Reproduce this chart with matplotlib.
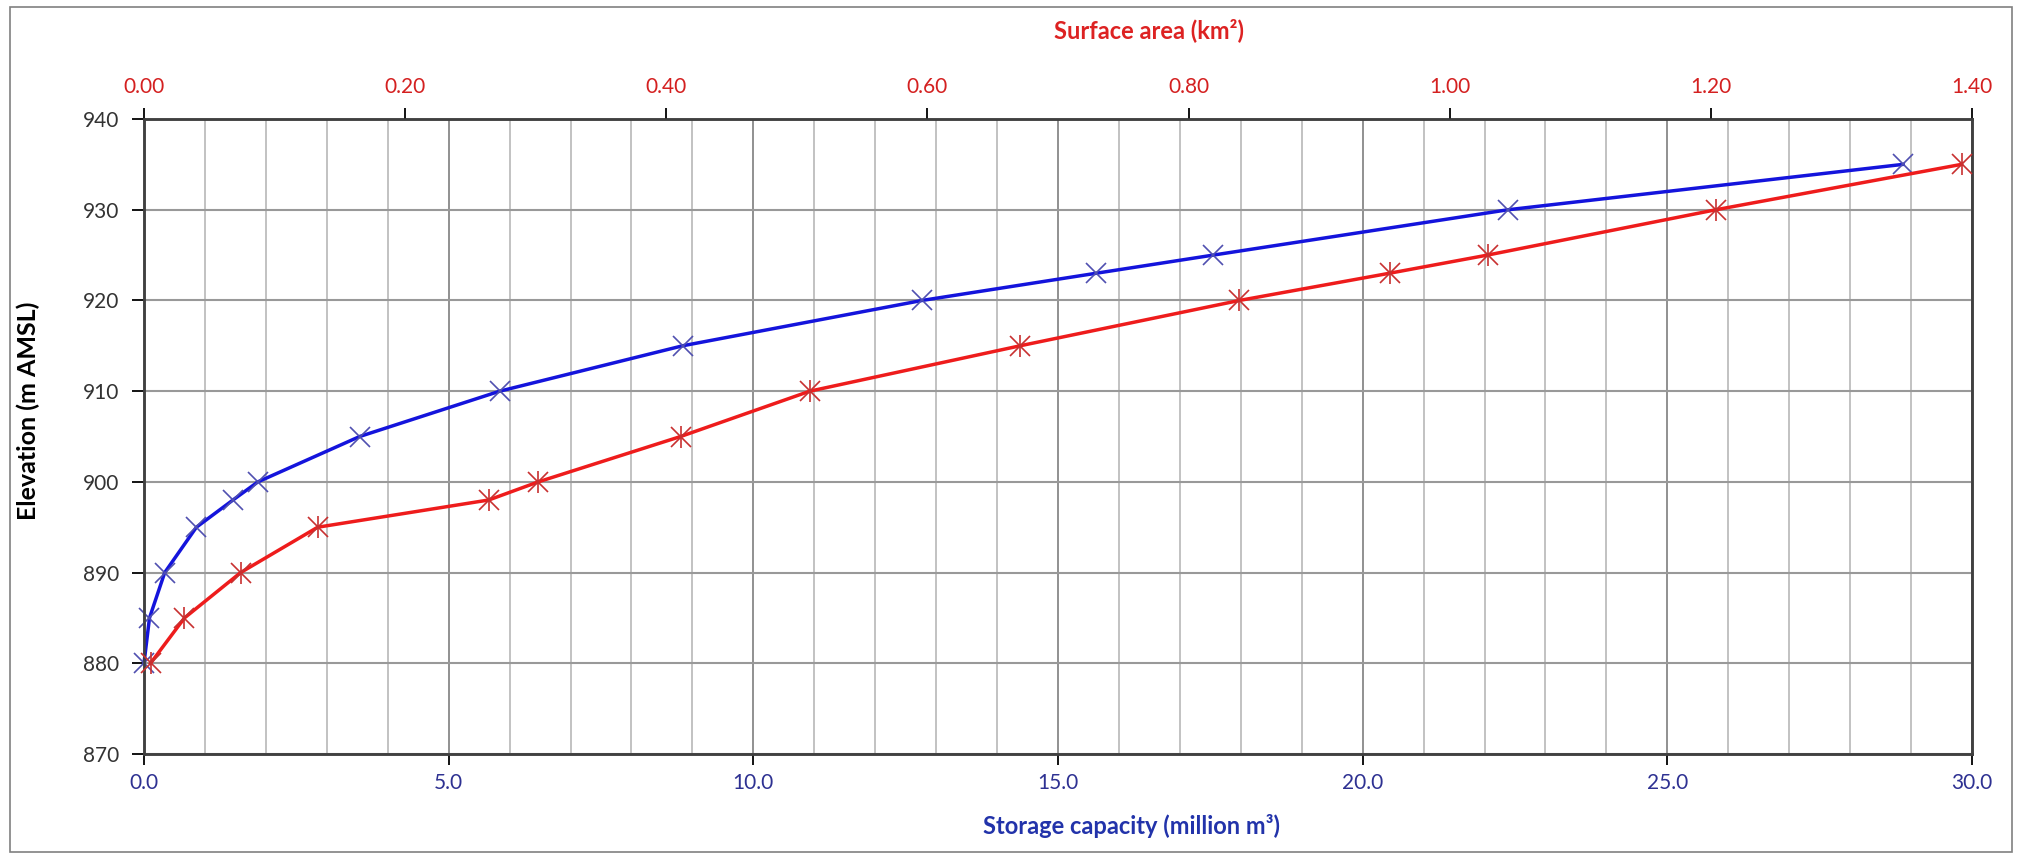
import numpy as np
import matplotlib.pyplot as plt
from matplotlib.patches import Rectangle
from matplotlib.ticker import MultipleLocator, FormatStrFormatter

plt.rcParams['font.family'] = ['Lato', 'DejaVu Sans']

# elevation (m AMSL) vs storage (million m3) and surface area (km2)
elevation = [880, 885, 890, 895, 898, 900, 905, 910, 915, 920, 923, 925, 930, 935]
storage = [0.0, 0.09, 0.34, 0.86, 1.46, 1.87, 3.54, 5.84, 8.84, 12.77, 15.63, 17.55, 22.39, 28.87]
area = [0.005, 0.031, 0.074, 0.133, 0.264, 0.302, 0.411, 0.510, 0.671, 0.839, 0.954, 1.029, 1.204, 1.392]

W, H = 2026, 855
fig = plt.figure(figsize=(W / 100, H / 100), dpi=100)
fig.patches.append(Rectangle((10 / W, 3 / H), 2002 / W, 845 / H, transform=fig.transFigure,
                             fill=False, edgecolor='#808080', lw=1.2))

ax = fig.add_axes([144 / W, 1 - 754 / H, 1828 / W, 635 / H])
ax.set_xlim(0, 30)
ax.set_ylim(870, 940)
ax.xaxis.set_major_locator(MultipleLocator(5))
ax.xaxis.set_minor_locator(MultipleLocator(1))
ax.yaxis.set_major_locator(MultipleLocator(10))
ax.xaxis.set_major_formatter(FormatStrFormatter('%.1f'))
ax.grid(which='major', axis='x', color='#888888', lw=1.3)
ax.grid(which='minor', axis='x', color='#b8b8b8', lw=1.2)
ax.grid(which='major', axis='y', color='#999999', lw=1.5)
ax.set_axisbelow(True)
ax.tick_params(which='minor', length=0)
ax.tick_params(axis='x', which='major', length=8, width=1.3, pad=6, labelsize=15, labelcolor='#2e3192')
ax.tick_params(axis='y', which='major', length=9, width=1.3, pad=9, labelsize=15, labelcolor='#333333')
for s in ax.spines.values():
    s.set_color('#404040')
    s.set_linewidth(1.8)

ax.plot(storage, elevation, color='#1414dc', lw=2.5, marker='x', ms=14, mec='#5050b0', mew=1.2,
        clip_on=False, zorder=3)

ax.set_xlabel('Storage capacity (million m³)', fontsize=17, fontweight='bold', color='#2233aa')
ax.xaxis.set_label_coords(0.54, -0.095)
ax.set_ylabel('Elevation (m AMSL)', fontsize=18, fontweight='bold', color='black')
ax.yaxis.set_label_coords(-0.057, 0.54)

ax2 = ax.twiny()
ax2.set_xlim(0, 1.40)
ax2.xaxis.set_major_locator(MultipleLocator(0.2))
ax2.xaxis.set_major_formatter(FormatStrFormatter('%.2f'))
ax2.tick_params(axis='x', length=8, width=1.3, pad=8, labelsize=15, labelcolor='#d42020')
for s in ax2.spines.values():
    s.set_color('#404040')
    s.set_linewidth(1.8)

ax2.plot(area, elevation, color='#ee1c1c', lw=2.5, marker='x', ms=14, mec='#c83030', mew=1.2,
         clip_on=False, zorder=3)
ax2.plot(area, elevation, ls='none', marker='|', ms=16, mec='#c83030', mew=1.2, clip_on=False, zorder=4)

ax2.set_xlabel('Surface area (km²)', fontsize=17, fontweight='bold', color='#dd2222')
ax2.xaxis.set_label_coords(0.55, 1.128)

fig.savefig('out.png', dpi=100)
